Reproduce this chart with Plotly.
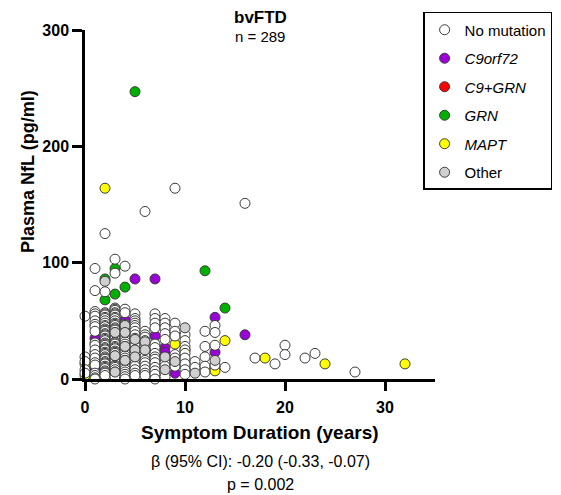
import plotly.graph_objects as go

FONT = "Arial, Liberation Sans, sans-serif"

# symptom duration (years) and plasma NfL (pg/ml) per genetic group
nomut_x = [0, 0, 0, 0, 0,
           1, 1, 1, 1, 1, 1, 1, 1, 1, 1, 1, 1, 1, 1, 1, 1, 1, 1, 1, 1,
           2, 2, 2, 2, 2, 2, 2, 2, 2, 2, 2, 2, 2, 2, 2, 2, 2, 2, 2, 2, 2,
           2, 2, 2, 2, 2, 2, 2, 2, 2, 2, 2, 2, 2, 2, 2, 2, 2, 2, 2, 2, 2,
           3, 3, 3, 3, 3, 3, 3, 3, 3, 3, 3, 3, 3, 3, 3, 3, 3, 3, 3, 3, 3, 3,
           3, 3, 3, 3, 3, 3, 3, 3, 3, 3, 3, 3, 3, 3, 3, 3, 3, 3, 3, 3, 3, 3,
           4, 4, 4, 4, 4, 4, 4, 4, 4, 4, 4, 4, 4, 4, 4, 4, 4, 4, 4, 4, 4, 4,
           4, 4, 4, 4, 4, 4, 4,
           5, 5, 5, 5, 5, 5, 5, 5, 5, 5, 5, 5, 5, 5, 5, 5, 5, 5, 5, 5,
           6, 6, 6, 6, 6, 6, 6, 6, 6, 6, 6, 6, 6, 6, 6,
           7, 7, 7, 7, 7, 7, 7, 7, 7, 7, 7, 7, 7, 7,
           8, 8, 8, 8, 8, 8, 8, 8, 8, 8,
           9, 9, 9, 9, 9, 9, 9, 9,
           10, 10, 10, 10, 10, 10, 10, 10, 10,
           11, 11,
           12, 12, 12, 12, 12,
           13, 13, 13, 13,
           14, 16, 17, 19, 20, 20, 22, 23, 27]
nomut_y = [54, 19, 15, 8, 5,
           95, 76, 58, 56, 54, 50, 47, 45, 41, 31, 29, 25, 21, 18, 14, 12, 5, 3, 1, 0,
           125, 75, 57, 56, 55, 53, 52, 50, 48, 46, 45, 43, 42, 41, 39, 38, 37,
           35, 34, 33, 31, 30, 29, 27, 26, 25, 23, 22, 21, 19, 18, 17, 15, 14, 13, 11, 10, 9, 7, 6, 5, 3,
           103, 91, 61, 60, 59, 57, 56, 55, 53, 52, 50, 48, 47, 46, 44, 43, 42, 40, 38, 36, 35, 34,
           32, 31, 30, 28, 27, 26, 24, 23, 22, 20, 19, 18, 16, 15, 14, 12, 11, 10, 8, 6, 4, 2,
           97, 60, 57, 47, 46, 45, 44, 42, 40, 38, 36, 34, 32, 30, 28, 26, 24, 22, 20, 18, 16, 14,
           12, 10, 8, 6, 4, 2, 0,
           56, 52, 50, 48, 46, 44, 41, 38, 35, 30, 28, 25, 22, 19, 16, 13, 11, 8, 5, 3,
           144, 41, 38, 36, 33, 28, 25, 22, 19, 16, 14, 11, 8, 5, 3,
           56, 52, 48, 44, 30, 27, 22, 19, 17, 14, 10, 7, 4, 0,
           52, 48, 44, 39, 34, 17, 14, 11, 5, 2,
           164, 48, 41, 37, 21, 18, 13, 11,
           38, 33, 28, 25, 22, 18, 13, 8, 4,
           15, 10,
           41, 28, 19, 11, 6,
           46, 40, 29, 12,
           10, 151, 18, 13, 29, 21, 18, 22, 6]

c9_x = [1, 1, 4, 5, 7, 7, 8, 8, 9, 13, 13, 16]
c9_y = [35, 9, 51, 86, 86, 37, 27, 23, 5, 53, 23, 38]

c9grn_x = [None]
c9grn_y = [None]

grn_x = [5, 3, 2, 2, 3, 4, 12, 14]
grn_y = [247, 95, 86, 68, 73, 79, 93, 61]

mapt_x = [0, 0, 1, 2, 3, 4, 7, 9, 10, 13, 14, 18, 24, 32]
mapt_y = [13, 3, 23, 164, 3, 3, 26, 30, 25, 7, 33, 18, 13, 13]

other_x = [2, 3, 3, 3, 4, 4, 4, 4, 5, 5, 5, 6, 6, 8, 8, 9, 10, 11, 13]
other_y = [84, 40, 20, 6, 46, 40, 28, 16, 34, 25, 19, 32, 25, 19, 8, 15, 44, 5, 16]

# drawing order (whites sit over most coloured points, grey on top), legend rank
groups = [
    ("<i>C9orf72</i>", c9_x, c9_y, "#9b00d8", 2),
    ("<i>C9+GRN</i>", c9grn_x, c9grn_y, "#ff0000", 3),
    ("<i>GRN</i>", grn_x, grn_y, "#00b000", 4),
    ("<i>MAPT</i>", mapt_x, mapt_y, "#ffff00", 5),
    ("No mutation", nomut_x, nomut_y, "#ffffff", 1),
    ("Other", other_x, other_y, "#d0d0d0", 6),
]

fig = go.Figure()
for name, xs, ys, col, rank in groups:
    fig.add_trace(go.Scatter(
        x=xs, y=ys, mode="markers", name=name,
        legendrank=rank, legendgroup=name,
        cliponaxis=False,
        marker=dict(size=10, color=col,
                    line=dict(color="#3a3a3a", width=1)),
    ))

axis_common = dict(
    showline=True, linecolor="black", linewidth=2.5,
    ticks="outside", tickcolor="black", tickwidth=2.5,
    showgrid=False, zeroline=False,
    tickfont=dict(family=FONT, size=16, color="black", weight="bold"),
)
fig.update_xaxes(range=[0, 35], tickvals=[0, 10, 20, 30], ticklen=9,
                 ticklabelstandoff=3, **axis_common)
fig.update_yaxes(range=[0, 300], tickvals=[0, 100, 200, 300], ticklen=10,
                 **axis_common)

def ann(text, x, y, size, bold=False, angle=0):
    fig.add_annotation(
        text=text, x=x, y=y, xref="paper", yref="paper",
        showarrow=False, xanchor="center", yanchor="middle", textangle=angle,
        font=dict(family=FONT, size=size, color="black",
                  weight="bold" if bold else "normal"),
    )

ann("bvFTD", 0.5, 1.036, 17, bold=True)
ann("n = 289", 0.5, 0.980, 15)
ann("Symptom Duration (years)", 0.5, -0.1547, 19, bold=True)
ann("β (95% CI): -0.20 (-0.33, -0.07)", 0.5, -0.2378, 16)
ann("p = 0.002", 0.5, -0.3009, 16)
ann("Plasma NfL (pg/ml)", -0.1629, 0.596, 18, bold=True, angle=-90)

# the page body adds an 8px margin, so the figure is 8px smaller each way
fig.update_layout(
    width=553, height=487,
    margin=dict(l=77, r=126, t=22, b=116, autoexpand=False),
    plot_bgcolor="white", paper_bgcolor="white",
    font=dict(family=FONT, color="black"),
    legend=dict(
        x=0.966, y=1.0516, xanchor="left", yanchor="top",
        bordercolor="black", borderwidth=1.5, bgcolor="white",
        font=dict(family=FONT, size=15, color="black"),
        tracegroupgap=6, itemsizing="trace",
    ),
)

fig.write_html("out.html")
